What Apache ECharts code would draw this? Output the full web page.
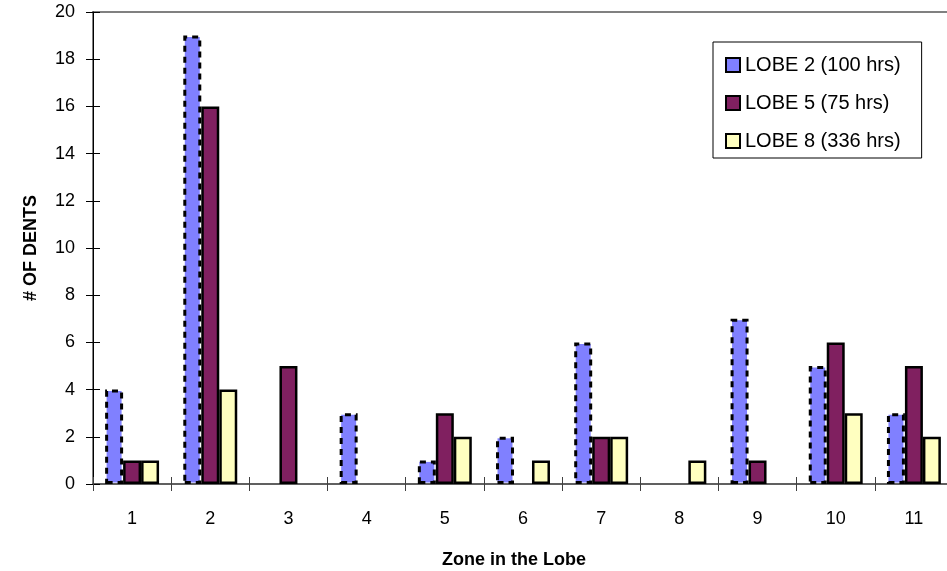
<!DOCTYPE html>
<html>
<head>
<meta charset="utf-8">
<script src="https://cdn.jsdelivr.net/npm/echarts@6/dist/echarts.min.js"></script>
<style>
  html, body { margin: 0; padding: 0; background: #fff; }
  #chart { width: 947px; height: 571px; }
</style>
</head>
<body>
<div id="chart"></div>
<script>
// Dent counts per zone for three lobes
const zones = ['1', '2', '3', '4', '5', '6', '7', '8', '9', '10', '11'];
const lobe2 = [4, 19, 0, 3, 1, 2, 6, 0, 7, 5, 3];
const lobe5 = [1, 16, 5, 0, 3, 0, 2, 0, 1, 6, 5];
const lobe8 = [1, 4, 0, 0, 2, 1, 2, 1, 0, 3, 2];
const seriesNames = ['LOBE 2 (100 hrs)', 'LOBE 5 (75 hrs)', 'LOBE 8 (336 hrs)'];
const yMin = 0, yMax = 20, yStep = 2;

const FONT = '"Liberation Sans", Arial, sans-serif';

// zero counts are left empty so no outline is stroked on the axis
const bars = v => v.map(x => (x === 0 ? '-' : x));

function barSeries(name, values, color, borderType, borderWidth) {
  return {
    name: name,
    type: 'bar',
    xAxisIndex: 0,
    yAxisIndex: 0,
    data: bars(values),
    barWidth: '23%',
    barGap: '0%',
    itemStyle: {
      color: color,
      borderColor: '#000',
      borderWidth: borderWidth,
      borderType: borderType
    },
    emphasis: { disabled: true }
  };
}

const chart = echarts.init(document.getElementById('chart'), null, { renderer: 'canvas' });

chart.setOption({
  animation: false,
  backgroundColor: '#fff',
  textStyle: { fontFamily: FONT },
  grid: {
    left: 93, right: -6, top: 12, bottom: 87,
    outerBoundsMode: 'none',
    containLabel: false,
    show: true,
    borderColor: '#808080',
    borderWidth: 2,
    backgroundColor: 'transparent'
  },
  legend: {
    orient: 'vertical',
    left: 713,
    top: 42,
    padding: [13, 21, 7, 12],
    itemGap: 18,
    itemWidth: 14,
    itemHeight: 14,
    icon: 'rect',
    backgroundColor: '#fff',
    borderColor: '#000',
    borderWidth: 1,
    borderRadius: 0,
    textStyle: { fontFamily: FONT, fontSize: 20, color: '#000', lineHeight: 20 },
    data: seriesNames
  },
  xAxis: [
    {
      type: 'category',
      data: zones,
      position: 'bottom',
      name: 'Zone in the Lobe',
      nameLocation: 'middle',
      nameGap: 67,
      nameTextStyle: {
        fontFamily: FONT, fontSize: 18, fontWeight: 'bold', color: '#000',
        padding: [0, 18, 0, 0]
      },
      axisLine: { show: true, lineStyle: { color: '#606060', width: 2 } },
      axisTick: { show: true, alignWithLabel: false, length: 7, lineStyle: { color: '#404040', width: 1 } },
      axisLabel: { fontFamily: FONT, fontSize: 18, color: '#000', margin: 26 },
      splitLine: { show: false }
    },
    {
      // inward half of the cross tick marks
      type: 'category',
      data: zones,
      position: 'bottom',
      axisLine: { show: false },
      axisTick: { show: true, inside: true, length: 7, lineStyle: { color: '#404040', width: 1 } },
      axisLabel: { show: false },
      splitLine: { show: false }
    }
  ],
  yAxis: [
    {
      type: 'value',
      min: yMin, max: yMax, interval: yStep,
      position: 'left',
      name: '# OF DENTS',
      nameLocation: 'middle',
      nameGap: 53,
      nameTextStyle: { fontFamily: FONT, fontSize: 18, fontWeight: 'bold', color: '#000' },
      axisLine: { show: true, lineStyle: { color: '#000', width: 1 } },
      axisTick: { show: true, length: 7, lineStyle: { color: '#000', width: 1 } },
      axisLabel: { fontFamily: FONT, fontSize: 18, color: '#000', margin: 18 },
      splitLine: { show: false }
    },
    {
      type: 'value',
      min: yMin, max: yMax, interval: yStep,
      position: 'left',
      axisLine: { show: false },
      axisTick: { show: true, inside: true, length: 7, lineStyle: { color: '#000', width: 1 } },
      axisLabel: { show: false },
      splitLine: { show: false }
    }
  ],
  series: [
    barSeries(seriesNames[0], lobe2, '#8080FF', [6, 5], 3),
    barSeries(seriesNames[1], lobe5, '#802060', 'solid', 2.5),
    barSeries(seriesNames[2], lobe8, '#FFFFC0', 'solid', 2.5)
  ]
});
</script>
</body>
</html>
